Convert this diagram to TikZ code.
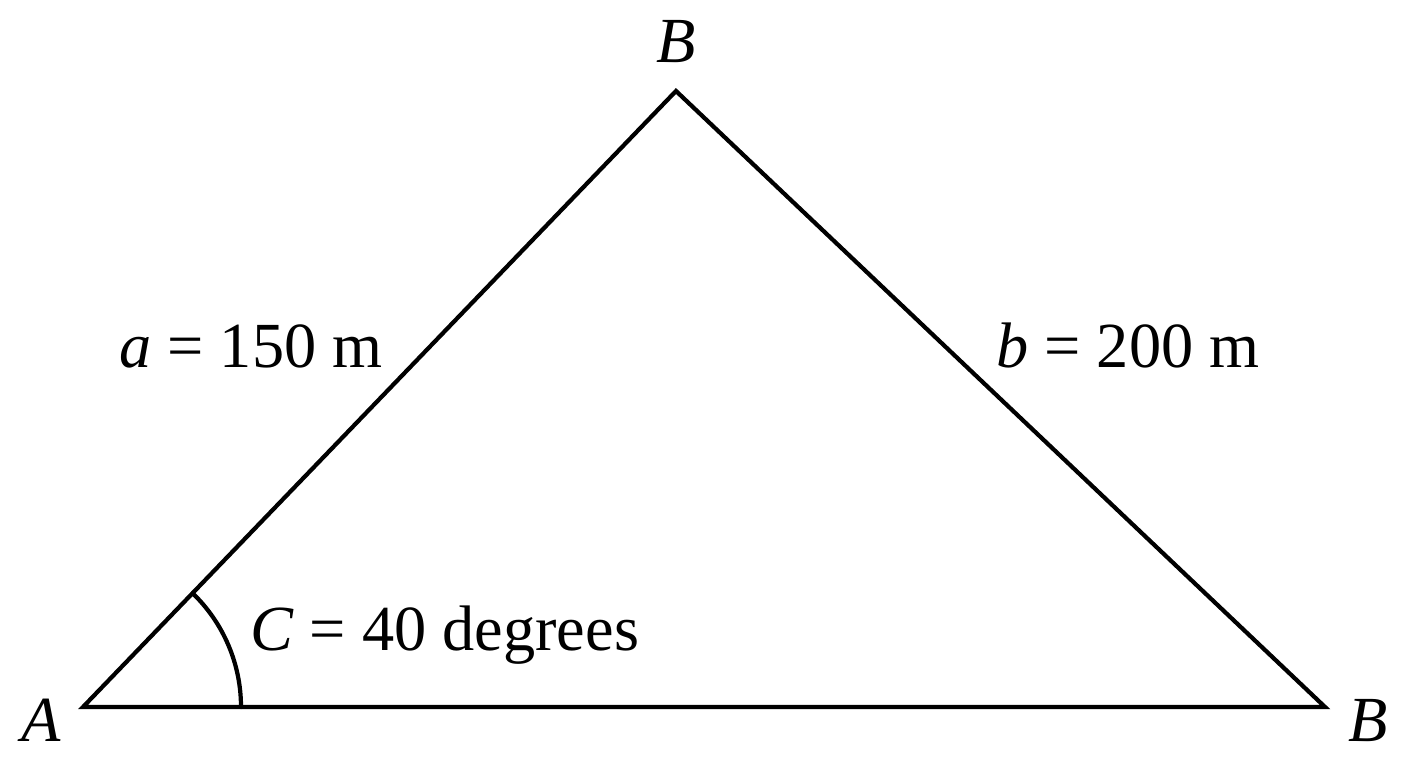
\documentclass[tikz,border=0pt]{standalone}
\usepackage{fontspec}
\setmainfont{Liberation Serif}
\begin{document}
\begin{tikzpicture}[line cap=round,line join=miter,x=1.0cm,y=1.0cm,
  lbl/.style={anchor=base,inner sep=0pt,font=\fontsize{18.3}{21}\selectfont}]
\useasboundingbox (0,0) rectangle (14.08,7.68);
\coordinate (A) at (0.83,0.61);
\coordinate (B) at (6.76,6.77);
\coordinate (B2) at (13.25,0.61);
\draw [line width=1.2pt] (A) -- (B) -- (B2) -- cycle;
\draw [line width=1.2pt] ([shift={(1.58,0)}]A) arc (0:46.1:1.58);
\node[lbl] (labA) at (0.41,0.26) {\itshape A};
\node[lbl] (labB) at (6.76,7.05) {\itshape B};
\node[lbl] (labB2) at (13.68,0.26) {\itshape B};
\node[lbl] (sidea) at (2.51,4.00) {{\itshape a} = 150 m};
\node[lbl] (sideb) at (11.28,4.00) {{\itshape b} = 200 m};
\node[lbl] (angC) at (4.45,1.17) {{\itshape C} = 40 degrees};
\end{tikzpicture}
\end{document}
